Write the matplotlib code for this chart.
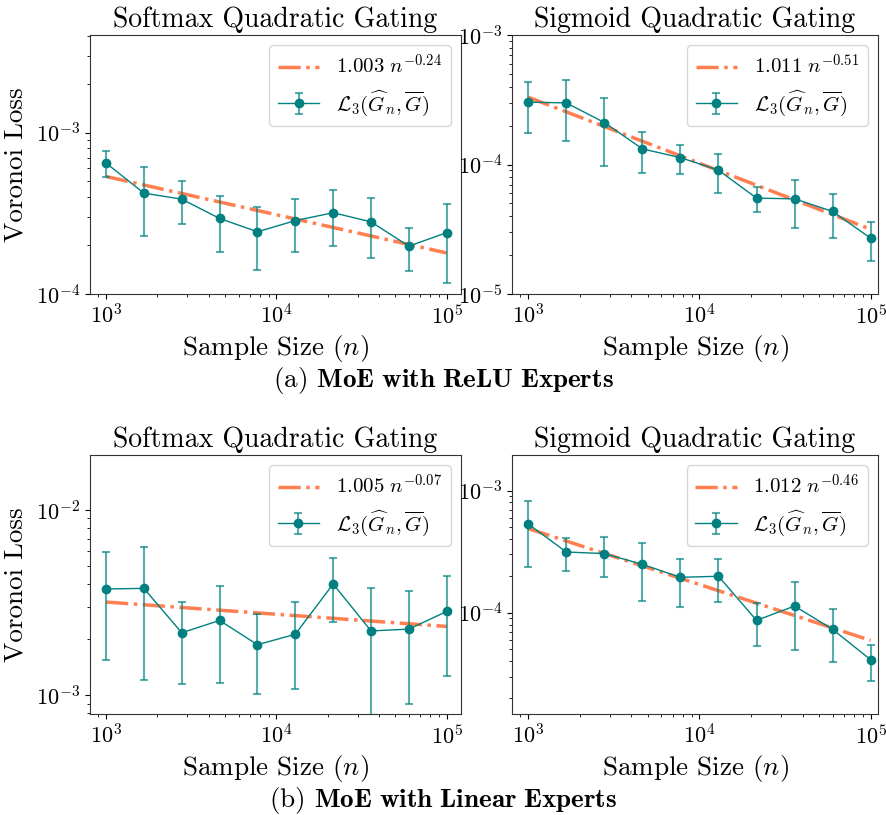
import numpy as np
import matplotlib
matplotlib.use("Agg")
import matplotlib.pyplot as plt
from matplotlib.ticker import NullFormatter

plt.rcParams['font.family'] = 'serif'
plt.rcParams['font.serif'] = ['cmr10']
plt.rcParams['mathtext.fontset'] = 'cm'
plt.rcParams['axes.formatter.use_mathtext'] = True

# ---- data ----
sample_sizes = [1000, 1668, 2783, 4642, 7743, 12915, 21544, 35938, 59948, 100000]

relu_softmax_mean = [6.48e-4, 4.22e-4, 3.87e-4, 2.94e-4, 2.43e-4, 2.85e-4, 3.19e-4, 2.80e-4, 1.98e-4, 2.40e-4]
relu_softmax_err = [1.17e-4, 1.93e-4, 1.15e-4, 1.13e-4, 1.03e-4, 1.02e-4, 1.20e-4, 1.12e-4, 0.60e-4, 1.23e-4]
relu_softmax_fit = (5.35e-4, -0.237)
relu_softmax_label = r"$1.003\ n^{-0.24}$"

relu_sigmoid_mean = [3.03e-4, 2.99e-4, 2.11e-4, 1.32e-4, 1.13e-4, 9.04e-5, 5.50e-5, 5.43e-5, 4.34e-5, 2.70e-5]
relu_sigmoid_err = [1.28e-4, 1.47e-4, 1.13e-4, 4.65e-5, 2.8e-5, 3.05e-5, 1.2e-5, 2.2e-5, 1.63e-5, 0.9e-5]
relu_sigmoid_fit = (3.31e-4, -0.51)
relu_sigmoid_label = r"$1.011\ n^{-0.51}$"

lin_softmax_mean = [3.74e-3, 3.77e-3, 2.17e-3, 2.53e-3, 1.87e-3, 2.13e-3, 3.98e-3, 2.22e-3, 2.27e-3, 2.83e-3]
lin_softmax_err = [2.19e-3, 2.56e-3, 1.02e-3, 1.37e-3, 0.86e-3, 1.05e-3, 1.49e-3, 1.55e-3, 1.38e-3, 1.56e-3]
lin_softmax_fit = (3.18e-3, -0.066)
lin_softmax_label = r"$1.005\ n^{-0.07}$"

lin_sigmoid_mean = [5.33e-4, 3.145e-4, 3.05e-4, 2.49e-4, 1.95e-4, 1.99e-4, 8.66e-5, 1.135e-4, 7.31e-5, 4.12e-5]
lin_sigmoid_err = [2.95e-4, 0.935e-4, 1.085e-4, 1.235e-4, 0.83e-4, 0.77e-4, 0.335e-4, 0.64e-4, 0.335e-4, 1.35e-5]
lin_sigmoid_fit = (4.89e-4, -0.458)
lin_sigmoid_label = r"$1.012\ n^{-0.46}$"

titles = ["Softmax Quadratic Gating", "Sigmoid Quadratic Gating"]
captions = [r"(a) $\mathbf{MoE\ with\ ReLU\ Experts}$", r"(b) $\mathbf{MoE\ with\ Linear\ Experts}$"]
loss_label = r"$\mathcal{L}_3(\widehat{G}_n, \overline{G})$"

W, H = 886, 815
fig = plt.figure(figsize=(W / 100, H / 100), dpi=100)

panels = [
    ((90, 35, 461, 294), relu_softmax_mean, relu_softmax_err, relu_softmax_fit, relu_softmax_label,
     (1e-4, 4.03e-3), (805, 121300), titles[0], True),
    ((512, 35, 878, 294), relu_sigmoid_mean, relu_sigmoid_err, relu_sigmoid_fit, relu_sigmoid_label,
     (1e-5, 1e-3), (803.5, 110400), titles[1], False),
    ((90, 455, 461, 714), lin_softmax_mean, lin_softmax_err, lin_softmax_fit, lin_softmax_label,
     (7.9e-4, 1.98e-2), (805, 121300), titles[0], True),
    ((512, 455, 878, 714), lin_sigmoid_mean, lin_sigmoid_err, lin_sigmoid_fit, lin_sigmoid_label,
     (1.48e-5, 1.96e-3), (803.5, 110400), titles[1], False),
]

x = np.array(sample_sizes, dtype=float)
for (l, t, r, b), mean, err, fit, flabel, ylim, xlim, title, left in panels:
    ax = fig.add_axes([l / W, 1 - b / H, (r - l) / W, (b - t) / H])
    amp, expo = fit
    ax.plot(x, amp * (x / 1000.0) ** expo, linestyle='-.', color='#FF7F50', lw=2.5,
            label=flabel, zorder=3)
    ax.errorbar(x, mean, yerr=err, fmt='-o', color='teal', lw=1, markersize=6,
                ecolor=(0.0, 0.5, 0.5, 0.65), elinewidth=1.5, capsize=3, capthick=1.5,
                label=loss_label, zorder=4)
    ax.set_xscale('log')
    ax.set_yscale('log')
    ax.set_xlim(*xlim)
    ax.set_ylim(*ylim)
    ax.yaxis.set_minor_formatter(NullFormatter())
    ax.xaxis.set_minor_formatter(NullFormatter())
    ax.tick_params(axis='both', which='major', labelsize=16)
    ax.set_title(title, fontsize=20, pad=6)
    ax.set_xlabel(r"Sample Size ($n$)", fontsize=19.5, labelpad=4)
    if left:
        ax.set_ylabel("Voronoi Loss", fontsize=19.5, labelpad=6)
    for s in ax.spines.values():
        s.set_color('#333333')
    ax.legend(loc='upper right', fontsize=15)

fig.text(0.5, 1 - 381 / H, captions[0], ha='center', va='center', fontsize=19.5)
fig.text(0.5, 1 - 801 / H, captions[1], ha='center', va='center', fontsize=19.5)

fig.savefig("out.png", dpi=100)
